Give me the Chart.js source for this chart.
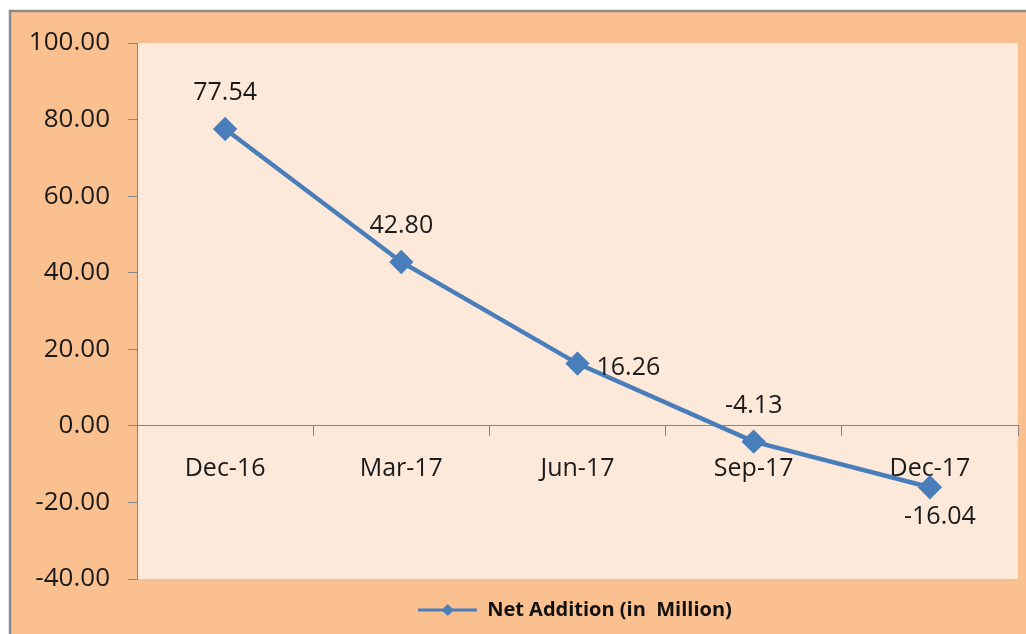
<!DOCTYPE html>
<html>
<head>
<meta charset="utf-8">
<script src="https://cdn.jsdelivr.net/npm/chart.js@4"></script>
<style>
html, body { margin: 0; padding: 0; background: #fff; }
#wrap { width: 1026px; height: 634px; }
</style>
</head>
<body>
<div id="wrap"><canvas id="grafico"></canvas></div>
<script>
// dados
const categorias = ['Dec-16', 'Mar-17', 'Jun-17', 'Sep-17', 'Dec-17'];
const netAddition = [77.54, 42.80, 16.26, -4.13, -16.04];
const posRotulos = ['top', 'top', 'right', 'top', 'bottom'];
const yMin = -40, yMax = 100, yPasso = 20;

const AZUL = '#4A7EBB';
const CINZA = '#868686';
Chart.defaults.font.family = "'Open Sans', sans-serif";

// icone da legenda: linha com losango
const icone = document.createElement('canvas');
icone.width = 59; icone.height = 16;
const ic = icone.getContext('2d');
ic.strokeStyle = AZUL; ic.lineWidth = 3;
ic.beginPath(); ic.moveTo(0, 8); ic.lineTo(59, 8); ic.stroke();
ic.fillStyle = AZUL;
ic.beginPath(); ic.moveTo(29.5, 2); ic.lineTo(35.5, 8); ic.lineTo(29.5, 14); ic.lineTo(23.5, 8); ic.closePath(); ic.fill();

// fundo externo e area do grafico
const fundo = {
  id: 'fundo',
  beforeDraw(chart) {
    const { ctx, width, height, chartArea: a } = chart;
    ctx.save();
    ctx.fillStyle = '#fff';
    ctx.fillRect(0, 0, width, height);
    ctx.fillStyle = '#FAC090';
    ctx.fillRect(10, 12, width - 10, height - 12);
    ctx.strokeStyle = '#8a8a8a';
    ctx.lineWidth = 2.5;
    ctx.beginPath(); ctx.moveTo(10, height); ctx.lineTo(10, 11); ctx.lineTo(width, 11); ctx.stroke();
    ctx.fillStyle = '#FDE9D9';
    ctx.fillRect(a.left, a.top, a.right - a.left, a.bottom - a.top);
    ctx.restore();
  }
};

// rotulos de dados
const rotulos = {
  id: 'rotulos',
  afterDatasetsDraw(chart) {
    const { ctx } = chart;
    const meta = chart.getDatasetMeta(0);
    ctx.save();
    ctx.font = "25px 'Open Sans', sans-serif";
    ctx.fillStyle = '#1a1a1a';
    ctx.textBaseline = 'middle';
    meta.data.forEach((pt, i) => {
      const txt = netAddition[i].toFixed(2);
      const pos = posRotulos[i];
      if (pos === 'right') {
        ctx.textAlign = 'left';
        ctx.fillText(txt, pt.x + 19, pt.y + 4);
      } else if (pos === 'bottom') {
        ctx.textAlign = 'center';
        ctx.fillText(txt, pt.x + 10, pt.y + 30);
      } else {
        ctx.textAlign = 'center';
        ctx.fillText(txt, pt.x, pt.y - 36);
      }
    });
    ctx.restore();
  }
};

// centraliza a legenda como no original
const moveLegenda = {
  id: 'moveLegenda',
  afterLayout(chart) {
    chart.legend.left += 132;
  }
};

new Chart(document.getElementById('grafico'), {
  type: 'line',
  data: {
    labels: categorias,
    datasets: [{
      label: 'Net Addition (in  Million)',
      data: netAddition,
      borderColor: AZUL,
      backgroundColor: AZUL,
      borderWidth: 4.5,
      tension: 0,
      pointStyle: 'rectRot',
      pointRadius: 9,
      pointBackgroundColor: AZUL,
      pointBorderColor: AZUL,
      fill: false
    }]
  },
  options: {
    responsive: true,
    maintainAspectRatio: false,
    animation: false,
    layout: { autoPadding: false, padding: { top: 43, right: 8, bottom: 4, left: 0 } },
    scales: {
      x: {
        type: 'category',
        position: { y: 0 },
        offset: true,
        grid: { offset: true, drawOnChartArea: false, drawTicks: true, tickLength: 10, color: CINZA },
        border: { display: true, color: CINZA },
        ticks: { padding: 18, font: { size: 25 }, color: '#1a1a1a', maxRotation: 0 },
        afterFit: s => { s.height = 0; s.paddingLeft = 0; s.paddingRight = 0; }
      },
      y: {
        min: yMin,
        max: yMax,
        grid: { drawOnChartArea: false, drawTicks: true, tickLength: 9, color: CINZA },
        border: { display: true, color: CINZA },
        ticks: { stepSize: yPasso, padding: 18, font: { size: 26 }, color: '#1a1a1a', callback: v => v.toFixed(2) },
        afterFit: s => { s.width = 137; }
      }
    },
    plugins: {
      legend: {
        position: 'bottom',
        labels: {
          usePointStyle: true,
          pointStyle: icone,
          pointStyleWidth: 59,
          padding: 21,
          color: '#111',
          font: { size: 20, weight: 'bold' }
        }
      },
      tooltip: { enabled: false }
    }
  },
  plugins: [fundo, rotulos, moveLegenda]
});
</script>
</body>
</html>
